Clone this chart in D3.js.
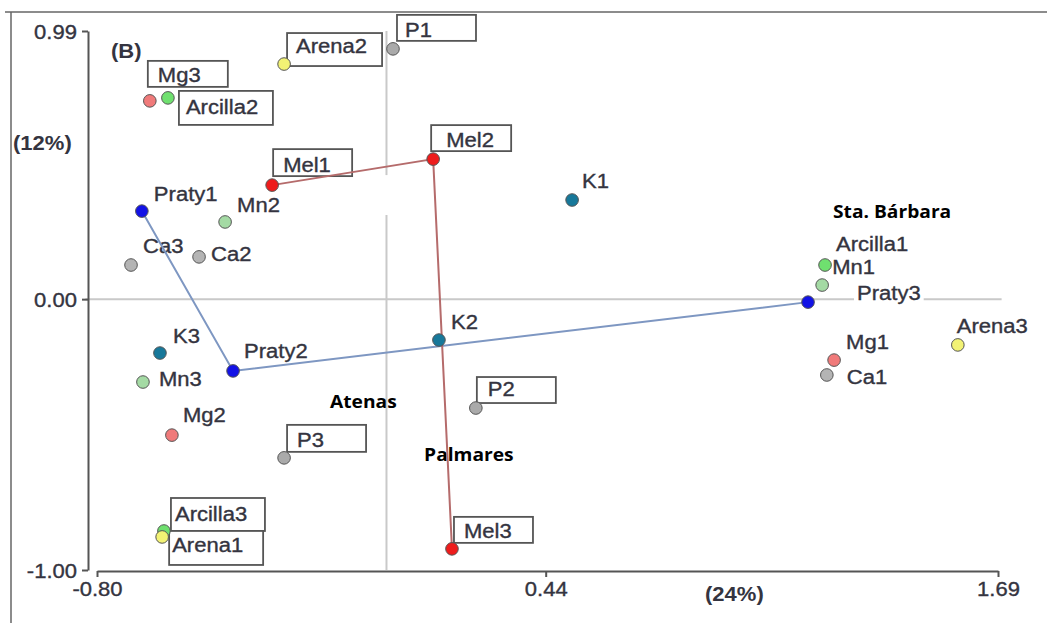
<!DOCTYPE html>
<html><head><meta charset="utf-8">
<script src="https://cdn.jsdelivr.net/npm/d3@7"></script>
<style>body{margin:0;background:#fff;} svg{display:block}</style>
</head><body><svg id="c" width="1047" height="623"></svg>
<script>
// ---------- data ----------
const names    = ["Mg3","Arcilla2","Arena2","P1","Mel1","Mel2","Praty1","Mn2","K1","Ca3","Ca2",
                  "Arcilla1","Mn1","Praty3","Arena3","Mg1","Ca1","K2","K3","Praty2","Mn3","P2",
                  "Mg2","P3","Arcilla3","Arena1","Mel3"];
const xs       = [-0.654,-0.604,-0.283,0.018,-0.316,0.129,-0.676,-0.446,0.513,-0.706,-0.518,
                  1.212,1.204,1.165,1.579,1.237,1.217,0.145,-0.626,-0.424,-0.673,0.247,
                  -0.593,-0.283,-0.615,-0.620,0.181];
const ys       = [0.732,0.743,0.868,0.924,0.421,0.517,0.325,0.285,0.366,0.126,0.156,
                  0.126,0.052,-0.011,-0.169,-0.225,-0.280,-0.151,-0.199,-0.265,-0.306,-0.402,
                  -0.502,-0.586,-0.856,-0.878,-0.922];
const elements = ["Mg","Arcilla","Arena","P","Mel","Mel","Praty","Mn","K","Ca","Ca",
                  "Arcilla","Mn","Praty","Arena","Mg","Ca","K","K","Praty","Mn","P",
                  "Mg","P","Arcilla","Arena","Mel"];
const xTicks = [-0.80, 0.44, 1.69];
const yTicks = [-1.00, 0.00, 0.99];
const xTitle = "(24%)";
const yTitle = "(12%)";
const panelTag = "(B)";
const sites  = ["Sta. Bárbara","Atenas","Palmares"];
const siteX  = [1.234,-0.156,0.104];
const siteY  = [0.300,-0.402,-0.598];
const prTrail  = ["Praty1","Praty2","Praty3"];
const melTrail = ["Mel1","Mel2","Mel3"];

// ---------- style / layout ----------
const colors = {Mg:"#f07a7a",Arcilla:"#6fe06f",Arena:"#f2f274",P:"#aaaaaa",Ca:"#b4b4b4",
                Mel:"#ee1c1c",Praty:"#1212e6",Mn:"#a4daa4",K:"#17789a"};
// label offsets (px) relative to the point; b = box [dx,dy,w,h]
const lab = {
  Mg3:{t:[8,-19],b:[-2,-40,80,26]}, Arcilla2:{t:[18,16],b:[11,-7,94,34]},
  Arena2:{t:[12,-11],b:[3,-31,95,33]}, P1:{t:[12,-12],b:[4,-34,79,26]},
  Mel1:{t:[11,-13],b:[1,-36,79,27]}, Mel2:{t:[13,-12],b:[-2,-34,80,26]},
  P2:{t:[12,-12],b:[1,-31,79,26]}, P3:{t:[13,-11],b:[3,-33,79,27]},
  Mel3:{t:[12,-11],b:[2,-32,79,26]}, Arcilla3:{t:[11,-10],b:[7,-33,94,33]},
  Arena1:{t:[10,15],b:[7,-6,94,34]},
  Praty1:{t:[12,-10]}, Mn2:{t:[12,-10]}, Ca3:{t:[12,-12]}, Ca2:{t:[12,4]},
  K1:{t:[10,-12]}, K2:{t:[12,-11]}, Arcilla1:{t:[11,-14]}, Mn1:{t:[10,-11]},
  Praty3:{t:[49,-2],bg:true}, Arena3:{t:[-1,-12]}, Mg1:{t:[12,-11]}, Ca1:{t:[20,9]},
  K3:{t:[13,-10]}, Praty2:{t:[11,-13]}, Mn3:{t:[16,4]}, Mg2:{t:[11,-13]}
};
const SX = 1.13;            // horizontal text stretch
const FONT = "'Liberation Sans', Arial, sans-serif";
const TXT = "#343440";

const svg = d3.select("#c");
const x = d3.scaleLinear().domain([-0.80, 1.69]).range([97, 998]);
const y = d3.scaleLinear().domain([-1.00, 0.99]).range([570, 31]);

function txt(g, px, py, s, o = {}) {
  return g.append("text")
    .attr("transform", `translate(${px},${py}) scale(${SX},1)`)
    .attr("font-family", o.family || FONT)
    .attr("font-size", o.size || 19.5)
    .attr("font-weight", o.weight || "normal")
    .attr("fill", o.fill || TXT)
    .attr("stroke", o.fill || TXT).attr("stroke-width", o.sw === undefined ? 0.35 : o.sw)
    .attr("text-anchor", o.anchor || "start")
    .text(s);
}

// frame
svg.append("line").attr("x1",11).attr("x2",11).attr("y1",12).attr("y2",623)
  .attr("stroke","#666").attr("stroke-width",1.5);
svg.append("line").attr("x1",5).attr("x2",1047).attr("y1",12).attr("y2",12)
  .attr("stroke","#666").attr("stroke-width",1.5);

// reference lines
const refG = svg.append("g").attr("stroke","#c9c9c9").attr("stroke-width",2);
refG.append("line").attr("x1",x(-0.832)).attr("x2",x(1.70)).attr("y1",y(0)).attr("y2",y(0));
[[0.99,0.458],[0.311,-1.0]].forEach(s =>
  refG.append("line").attr("x1",x(0)).attr("x2",x(0)).attr("y1",y(s[0])).attr("y2",y(s[1])));

// axes
const yAx = svg.append("g").attr("transform","translate(88,0)")
  .call(d3.axisLeft(y).tickValues(yTicks).tickSize(6).tickSizeOuter(0).tickFormat(d => d.toFixed(2)));
const xAx = svg.append("g").attr("transform","translate(0,571)")
  .call(d3.axisBottom(x).tickValues(xTicks).tickSize(6).tickSizeOuter(0).tickFormat(d => d.toFixed(2)));
[yAx, xAx].forEach(a => {
  a.select(".domain").attr("stroke","#555").attr("stroke-width",2);
  a.selectAll(".tick line").attr("stroke","#555").attr("stroke-width",2);
  a.selectAll(".tick text").attr("font-family",FONT).attr("font-size",19.5).attr("fill",TXT)
    .attr("stroke",TXT).attr("stroke-width",0.35);
});
yAx.selectAll(".tick text").attr("x",null).attr("dy",null)
  .attr("transform",`translate(-11,7) scale(${SX},1)`);
xAx.selectAll(".tick text").attr("y",null).attr("dy",null)
  .attr("transform",`translate(0,25) scale(${SX},1)`);

// axis titles & panel tag
txt(svg, 13, 150, yTitle, {weight:"bold", sw:0});
txt(svg, 705, 601, xTitle, {weight:"bold", sw:0});
txt(svg, 111, 58, panelTag, {weight:"bold", sw:0});

// site labels
sites.forEach((s,i) => txt(svg, x(siteX[i]), y(siteY[i]), s,
  {family:"'Open Sans', sans-serif", weight:"bold", size:17, fill:"#000", sw:0}));

// labels & boxes
const pos = {};
names.forEach((n,i) => pos[n] = [x(xs[i]), y(ys[i])]);
const labG = svg.append("g");
names.forEach(n => {
  const L = lab[n], p = pos[n];
  if (L.b) labG.append("rect").attr("x",p[0]+L.b[0]).attr("y",p[1]+L.b[1])
      .attr("width",L.b[2]).attr("height",L.b[3])
      .attr("fill","#fff").attr("stroke","#555").attr("stroke-width",1.8);
  const t = txt(labG, p[0]+L.t[0], p[1]+L.t[1], n);
  if (L.bg) {
    const bb = t.node().getBBox();
    labG.insert("rect", () => t.node())
      .attr("x", p[0]+L.t[0]-3).attr("y", p[1]+L.t[1]-16)
      .attr("width", bb.width*SX+6).attr("height", 20).attr("fill","#fff");
  }
});

// trails
const line = d3.line().x(n => pos[n][0]).y(n => pos[n][1]);
svg.append("path").attr("d", line(prTrail)).attr("fill","none")
  .attr("stroke","#7e97c2").attr("stroke-width",2);
svg.append("path").attr("d", line(melTrail)).attr("fill","none")
  .attr("stroke","#b56b6b").attr("stroke-width",2);

// points
svg.append("g").selectAll("circle").data(names).join("circle")
  .attr("cx",(d,i)=>x(xs[i])).attr("cy",(d,i)=>y(ys[i])).attr("r",6.3)
  .attr("fill",(d,i)=>colors[elements[i]]).attr("stroke","#555").attr("stroke-width",1);
</script></body></html>
